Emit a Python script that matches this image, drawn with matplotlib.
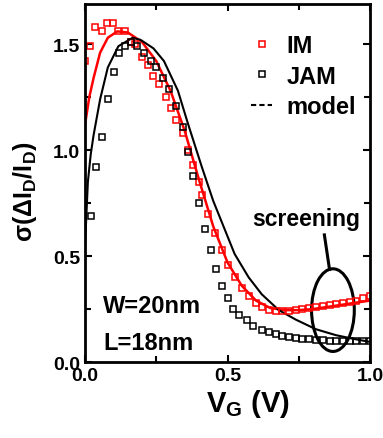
import matplotlib
matplotlib.use('Agg')
from matplotlib import pyplot as plt
from matplotlib.lines import Line2D
from matplotlib.patches import Ellipse
from matplotlib.ticker import MultipleLocator

plt.rcParams['font.family'] = ['Liberation Sans', 'DejaVu Sans']
plt.rcParams['font.weight'] = 'bold'
plt.rcParams['mathtext.default'] = 'regular'
plt.rcParams['mathtext.fontset'] = 'custom'
plt.rcParams['mathtext.rm'] = 'Liberation Sans:bold'

# IM measured
vg_im = [0.00, 0.018, 0.035, 0.06, 0.078, 0.099, 0.117, 0.142, 0.16, 0.177,
         0.20, 0.22, 0.24, 0.26, 0.284, 0.30, 0.32, 0.344, 0.36, 0.38,
         0.40, 0.41, 0.43, 0.455, 0.48, 0.50, 0.525, 0.55, 0.574, 0.60,
         0.62, 0.645, 0.67, 0.69, 0.715, 0.74, 0.76, 0.785, 0.81, 0.835,
         0.86, 0.88, 0.905, 0.93, 0.95, 0.975, 1.0]
sig_im = [1.42, 1.49, 1.58, 1.56, 1.60, 1.60, 1.56, 1.56, 1.51, 1.50,
          1.44, 1.40, 1.35, 1.31, 1.25, 1.20, 1.14, 1.08, 1.00, 0.93,
          0.85, 0.79, 0.70, 0.61, 0.53, 0.46, 0.40, 0.35, 0.31, 0.28,
          0.26, 0.245, 0.24, 0.24, 0.24, 0.245, 0.25, 0.255, 0.26, 0.265,
          0.27, 0.275, 0.28, 0.285, 0.29, 0.30, 0.31]

# JAM measured
vg_jam = [0.02, 0.04, 0.06, 0.08, 0.10, 0.12, 0.142, 0.16, 0.184, 0.206,
          0.23, 0.25, 0.272, 0.294, 0.32, 0.344, 0.36, 0.38, 0.40, 0.42,
          0.443, 0.46, 0.48, 0.50, 0.52, 0.54, 0.567, 0.59, 0.62, 0.645,
          0.67, 0.69, 0.715, 0.74, 0.76, 0.785, 0.81, 0.835, 0.86, 0.88,
          0.905, 0.93, 0.95, 0.975, 1.0]
sig_jam = [0.69, 0.92, 1.06, 1.24, 1.37, 1.46, 1.49, 1.51, 1.49, 1.46,
           1.42, 1.39, 1.34, 1.29, 1.21, 1.11, 0.99, 0.88, 0.75, 0.63,
           0.53, 0.44, 0.36, 0.30, 0.25, 0.22, 0.20, 0.17, 0.15, 0.14,
           0.13, 0.125, 0.12, 0.115, 0.11, 0.11, 0.105, 0.105, 0.10, 0.10,
           0.10, 0.10, 0.10, 0.10, 0.10]

# model curves
vg_mod_im = [0, 0.015, 0.03, 0.053, 0.08, 0.113, 0.15, 0.2, 0.25, 0.3, 0.35,
             0.4, 0.45, 0.5, 0.55, 0.6, 0.65, 0.7, 0.75, 0.8, 0.85, 0.9, 0.95, 1.0]
sig_mod_im = [1.12, 1.25, 1.34, 1.46, 1.53, 1.56, 1.555, 1.51, 1.42, 1.28, 1.09,
              0.86, 0.64, 0.47, 0.36, 0.29, 0.255, 0.245, 0.245, 0.25, 0.26, 0.27, 0.28, 0.29]

vg_mod_jam = [0, 0.01, 0.02, 0.03, 0.053, 0.08, 0.117, 0.167, 0.195, 0.24, 0.277,
              0.326, 0.36, 0.41, 0.45, 0.48, 0.525, 0.574, 0.62, 0.68, 0.74, 0.81,
              0.88, 0.94, 1.0]
sig_mod_jam = [0.55, 0.85, 0.98, 1.07, 1.24, 1.39, 1.49, 1.53, 1.52, 1.48, 1.42,
               1.28, 1.13, 0.92, 0.76, 0.66, 0.51, 0.40, 0.32, 0.245, 0.20, 0.155,
               0.127, 0.11, 0.095]

fig = plt.figure(figsize=(3.83, 4.39), dpi=100)
ax = fig.add_axes([0.222, 0.173, 0.744, 0.816])

ax.plot(vg_mod_im, sig_mod_im, color='red', lw=1.8)
ax.plot(vg_mod_jam, sig_mod_jam, color='black', lw=1.5)
ax.plot(vg_im, sig_im, 's', mfc='none', mec='red', ms=5, mew=1.1)
ax.plot(vg_jam, sig_jam, 's', mfc='none', mec='black', ms=5, mew=1.1)

# screening mark
ax.add_patch(Ellipse((0.87, 0.245), 0.15, 0.39, fill=False, ec='black', lw=2.2))
ax.plot([0.84, 0.858], [0.60, 0.437], color='black', lw=2.2)
ax.text(0.775, 0.675, 'screening', fontsize=16.5, ha='center', va='center')

ax.text(0.064, 0.235, 'W=20nm', fontsize=17, ha='left', va='baseline')
ax.text(0.064, 0.061, 'L=18nm', fontsize=17, ha='left', va='baseline')

handles = [Line2D([], [], ls='none', marker='s', mfc='none', mec='red', ms=5, mew=1.1),
           Line2D([], [], ls='none', marker='s', mfc='none', mec='black', ms=5, mew=1.1),
           Line2D([], [], ls='--', color='black', lw=1.5, dashes=(2.5, 1.5))]
ax.legend(handles, ['IM', 'JAM', 'model'], loc='upper right',
          bbox_to_anchor=(1.0, 0.955), frameon=False, fontsize=17,
          handlelength=0.9, handletextpad=0.6, labelspacing=0.32,
          borderaxespad=0.2)

ax.set_xlim(0, 1.0)
ax.set_ylim(0, 1.69)
ax.xaxis.set_major_locator(MultipleLocator(0.5))
ax.xaxis.set_minor_locator(MultipleLocator(0.25))
ax.yaxis.set_major_locator(MultipleLocator(0.5))
ax.yaxis.set_minor_locator(MultipleLocator(0.25))
ax.tick_params(which='both', direction='in', top=True, right=True, width=1.5,
               labelsize=14)
ax.tick_params(which='major', length=5)
ax.tick_params(which='minor', length=4)
for lab in ax.get_xticklabels() + ax.get_yticklabels():
    lab.set_fontweight('bold')
for s in ax.spines.values():
    s.set_linewidth(2)

ax.set_xlabel('V$_G$ (V)', fontsize=21, fontweight='bold')
ax.xaxis.set_label_coords(0.57, -0.07)
ax.set_ylabel('σ(ΔI$_D$/I$_D$)', fontsize=18, fontweight='bold')
ax.yaxis.set_label_coords(-0.16, 0.478)

fig.savefig('out.png', dpi=100)
